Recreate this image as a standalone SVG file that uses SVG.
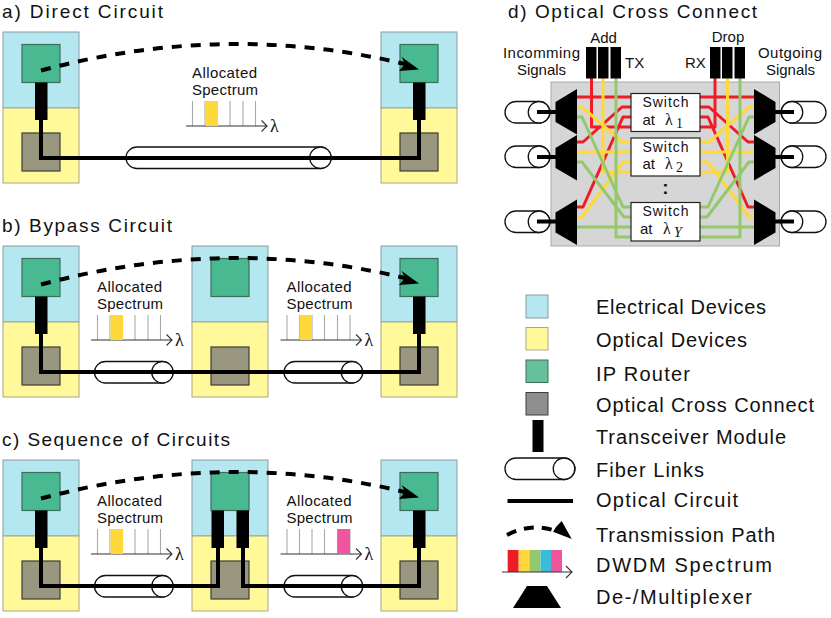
<svg xmlns="http://www.w3.org/2000/svg" width="831" height="618" viewBox="0 0 831 618">
<style>
text{font-family:"Liberation Sans",Arial,sans-serif;fill:#111}
.t{font-size:19px}
.l{font-size:20px}
.s{font-size:15px}
.w{font-size:14px}
.m{font-family:"Liberation Serif",serif}
.e{fill:#b5e7f0;stroke:#8a9ea2;stroke-width:1}
.o{fill:#fff999;stroke:#a8a68a;stroke-width:1}
.r{fill:#49b991;stroke:#3c6e5e;stroke-width:1.2}
.x{fill:#99977f;stroke:#3d3d35;stroke-width:1.2}
.fb{fill:#fff;stroke:#111;stroke-width:1.3}
.c{fill:none;stroke:#000;stroke-width:4}
.d{fill:none;stroke:#000;stroke-width:4;stroke-dasharray:10 9}
.tick{stroke:#aaa;stroke-width:1.1}
.ax{stroke:#333;stroke-width:1.1;fill:none}
.red,.yel,.grn{fill:none;stroke-width:3;stroke-linejoin:round}
.red{stroke:#ee1c25}.yel{stroke:#ffd93b}.grn{stroke:#94c96b}
</style>
<defs>
<g id="site"><rect class="e" x="3" y="32" width="76" height="76"/><rect class="o" x="3" y="108" width="76" height="75"/><rect class="r" x="22" y="44.5" width="38" height="38"/><rect class="x" x="22" y="133" width="38" height="38"/></g>
<g id="tr"><rect x="0" y="0" width="12.5" height="37.5" fill="#000"/></g>
<g id="fiber"><rect class="fb" x="0" y="0" width="78" height="21.5" rx="11" ry="10.75"/><circle class="fb" cx="68" cy="10.75" r="10.75"/></g>
<g id="stub"><rect class="fb" x="0" y="0" width="45" height="21.5" rx="11" ry="10.75"/><circle class="fb" cx="34" cy="10.75" r="10.75"/></g>
<g id="spec"><path class="tick" d="M0.5 0V25M13 0V25M25.5 0V25M38 0V25M51 0V25M63.5 0V25"/><path class="ax" d="M-6 25H75M69.500 19.500L75 25L69.500 30.500"/></g>
<g id="arr"><polygon points="401.700,57 419,69.500 399,71 405,64" fill="#000"/></g>
<polygon id="muxL" points="577,0 555.500,13 555.500,33 577,45.500"/>
</defs>

<g id="titles">
<text class="t" x="2" y="17.500" textLength="161" lengthAdjust="spacing">a) Direct Circuit</text>
<text class="t" x="2" y="232" textLength="170" lengthAdjust="spacing">b) Bypass Circuit</text>
<text class="t" x="2" y="446" textLength="228" lengthAdjust="spacing">c) Sequence of Circuits</text>
<text class="t" x="508" y="18" textLength="249" lengthAdjust="spacing">d) Optical Cross Connect</text>
</g>

<g id="a-left"><use href="#site"/><use href="#tr" x="35" y="82.500"/></g>
<g id="a-right"><use href="#site" x="378"/><use href="#tr" x="413" y="82.500"/></g>
<g id="b-left"><use href="#site" y="214"/><use href="#tr" x="35" y="296.500"/></g>
<g id="b-mid"><use href="#site" x="189" y="214"/></g>
<g id="b-right"><use href="#site" x="378" y="214"/><use href="#tr" x="413" y="296.500"/></g>
<g id="c-left"><use href="#site" y="428"/><use href="#tr" x="35" y="510.500"/></g>
<g id="c-mid"><use href="#site" x="189" y="428"/><use href="#tr" x="211.500" y="510.500"/><use href="#tr" x="236.500" y="510.500"/></g>
<g id="c-right"><use href="#site" x="378" y="428"/><use href="#tr" x="413" y="510.500"/></g>

<g id="spectra">
<g id="spec-a"><use href="#spec" x="192" y="101"/><rect x="205.500" y="101" width="12.500" height="25" fill="#ffd93b"/>
<text class="s" x="192" y="77.500" textLength="65">Allocated</text><text class="s" x="192" y="95" textLength="66">Spectrum</text><text class="m" font-size="18" x="270" y="132">λ</text></g>
<g id="spec-b1"><use href="#spec" x="97" y="315"/><rect x="110.500" y="315" width="12.500" height="25" fill="#ffd93b"/>
<text class="s" x="97" y="291.500" textLength="65">Allocated</text><text class="s" x="97" y="309" textLength="66">Spectrum</text><text class="m" font-size="18" x="175" y="346">λ</text></g>
<g id="spec-b2"><use href="#spec" x="286.500" y="315"/><rect x="299.500" y="315" width="12.500" height="25" fill="#ffd93b"/>
<text class="s" x="286.500" y="291.500" textLength="65">Allocated</text><text class="s" x="286.500" y="309" textLength="66">Spectrum</text><text class="m" font-size="18" x="364.500" y="346">λ</text></g>
<g id="spec-c1"><use href="#spec" x="97" y="529"/><rect x="110.500" y="529" width="12.500" height="25" fill="#ffd93b"/>
<text class="s" x="97" y="505.500" textLength="65">Allocated</text><text class="s" x="97" y="523" textLength="66">Spectrum</text><text class="m" font-size="18" x="175" y="560">λ</text></g>
<g id="spec-c2"><use href="#spec" x="286.500" y="529"/><rect x="337.500" y="529" width="12.500" height="25" fill="#ef569f"/>
<text class="s" x="286.500" y="505.500" textLength="65">Allocated</text><text class="s" x="286.500" y="523" textLength="66">Spectrum</text><text class="m" font-size="18" x="364.500" y="560">λ</text></g>
</g>

<g id="fibers">
<rect class="fb" x="126" y="147" width="205" height="21.500" rx="11" ry="10.750"/><circle class="fb" cx="320.500" cy="157.750" r="10.750"/>
<use href="#fiber" x="94.500" y="361.500"/><use href="#fiber" x="284" y="361.500"/>
<use href="#fiber" x="94.500" y="575.500"/><use href="#fiber" x="284" y="575.500"/>
</g>

<g id="connectors">
<path class="c" d="M41 120V158H419V120"/>
<path class="c" d="M41 334V372H419V334"/>
<path class="c" d="M41 548V586H218V548"/>
<path class="c" d="M243 548V586H419V548"/>
<path class="d" d="M41 70.500Q225 21 405 64"/>
<path class="d" transform="translate(0 214)" d="M41 70.500Q225 21 405 64"/>
<path class="d" transform="translate(0 428)" d="M41 70.500Q225 21 405 64"/>
<use href="#arr"/><use href="#arr" y="214"/><use href="#arr" y="428"/>
</g>

<g id="oxc-panel">
<rect x="551" y="82" width="228.500" height="164" fill="#d6d6d6" stroke="#aaa" stroke-width="1"/>
<g id="oxc-lines">
<path class="red" d="M591.500 78V127H631M577 97H631M577 142H583L622 107H631M577 207H583L623 117H631"/>
<path class="red" d="M715 78V127H700M754 97H700M754 142H748L709 107H700M754 207H748L708 117H700"/>
<path class="yel" d="M603 78V172H631M577 107H582L622 142H631M577 152H631M577 217H582L623 162H631"/>
<path class="yel" d="M727.500 78V172H700M754 107H749L709 142H700M754 152H700M754 217H749L708 162H700"/>
<path class="grn" d="M616 78V237H631M577 117H582L623 207H631M577 162H582L624 217H631M577 227H631"/>
<path class="grn" d="M740 78V237H700M754 117H749L708 207H700M754 162H749L707 217H700M754 227H700"/>
</g>
<g id="mux-l1"><use href="#muxL" y="89"/></g>
<g id="mux-l2"><use href="#muxL" y="135"/></g>
<g id="mux-l3"><use href="#muxL" y="199.500"/></g>
<g id="mux-r1"><use href="#muxL" transform="translate(1331 89) scale(-1 1)"/></g>
<g id="mux-r2"><use href="#muxL" transform="translate(1331 135) scale(-1 1)"/></g>
<g id="mux-r3"><use href="#muxL" transform="translate(1331 199.500) scale(-1 1)"/></g>
<g id="switch-1"><rect x="631" y="93.500" width="69" height="38" fill="#fff" stroke="#222" stroke-width="1.2"/>
<text class="w" x="642.500" y="107" textLength="46">Switch</text>
<text class="s" x="642.500" y="124.500">at<tspan class="m" font-size="16" x="665">λ</tspan><tspan class="m" font-size="14" x="676" dy="3">1</tspan></text></g>
<g id="switch-2"><rect x="631" y="138" width="69" height="38" fill="#fff" stroke="#222" stroke-width="1.2"/>
<text class="w" x="642.500" y="151.500" textLength="46">Switch</text>
<text class="s" x="642.500" y="169">at<tspan class="m" font-size="16" x="665">λ</tspan><tspan class="m" font-size="14" x="676" dy="3">2</tspan></text></g>
<text x="665.500" y="194" text-anchor="middle" font-size="19" font-weight="bold">:</text>
<g id="switch-y"><rect x="631" y="202.500" width="69" height="38.500" fill="#fff" stroke="#222" stroke-width="1.2"/>
<text class="w" x="642.500" y="216" textLength="46">Switch</text>
<text class="s" x="640" y="233.500">at<tspan class="m" font-size="16" x="663">λ</tspan><tspan class="m" font-size="14" font-style="italic" x="674" dy="3">Y</tspan></text></g>
</g>

<g id="oxc-ports">
<g id="add"><rect x="586" y="47" width="10.500" height="31.500"/><rect x="598" y="47" width="10.500" height="31.500"/><rect x="610.500" y="47" width="10.500" height="31.500"/></g>
<g id="drop"><rect x="710" y="47" width="10.500" height="31.500"/><rect x="722" y="47" width="10.500" height="31.500"/><rect x="734.500" y="47" width="10.500" height="31.500"/></g>
<text class="s" x="603.500" y="43" text-anchor="middle">Add</text>
<text class="s" x="728" y="42" text-anchor="middle">Drop</text>
<text class="s" x="503" y="58" textLength="77">Incomming</text>
<text class="s" x="517" y="74.500" textLength="49">Signals</text>
<text class="s" x="758" y="58" textLength="64">Outgoing</text>
<text class="s" x="766" y="74.500" textLength="49">Signals</text>
<text class="s" x="625" y="68">TX</text>
<text class="s" x="685" y="68">RX</text>
<use href="#stub" x="505" y="101.500"/><use href="#stub" x="505" y="146"/><use href="#stub" x="505" y="211"/>
<use href="#stub" transform="translate(826 101.500) scale(-1 1)"/><use href="#stub" transform="translate(826 146) scale(-1 1)"/><use href="#stub" transform="translate(826 211) scale(-1 1)"/>
<path class="c" d="M537 112H556M537 157H556M537 221.500H556M775 112H794M775 157H794M775 221.500H794"/>
</g>

<g id="legend">
<rect x="526" y="295" width="22" height="23" fill="#b5e7f0" stroke="#8a9ea2"/>
<rect x="526" y="327.500" width="22" height="22.500" fill="#fff999" stroke="#aaa88c"/>
<rect x="526" y="360" width="22" height="22.500" fill="#66c19a" stroke="#3c6e5e"/>
<rect x="526" y="392.500" width="22" height="22.500" fill="#8e8e8e" stroke="#3d3d3d"/>
<rect x="532.500" y="420" width="11" height="32" fill="#000"/>
<rect class="fb" x="505" y="458" width="70" height="21.500" rx="11" ry="10.750"/><circle class="fb" cx="564" cy="468.750" r="10.750"/>
<path class="c" d="M507.500 501H573"/>
<path class="c" stroke-dasharray="10 8" d="M507 535Q530 523 553 530"/>
<polygon points="561.700,521 571.700,539 553,531.700 556,527" fill="#000"/>
<rect x="507.700" y="550" width="11" height="22" fill="#ee1c25"/><rect x="518.700" y="550" width="11" height="22" fill="#ffd93b"/><rect x="529.500" y="550" width="11" height="22" fill="#94c96b"/><rect x="540.500" y="550" width="11" height="22" fill="#3cbcd8"/><rect x="551" y="550" width="11" height="22" fill="#ef569f"/>
<path class="ax" stroke="#111" d="M502 572H572M566 566L572 572L566 578"/>
<polygon points="513,608 561,608 547,586 527,586" fill="#000"/>
<text class="l" x="596" y="314" textLength="170">Electrical Devices</text>
<text class="l" x="596" y="346.500" textLength="151">Optical Devices</text>
<text class="l" x="596" y="380.500" textLength="94">IP Router</text>
<text class="l" x="596" y="412" textLength="218">Optical Cross Connect</text>
<text class="l" x="596" y="444" textLength="190">Transceiver Module</text>
<text class="l" x="596" y="476.500" textLength="108">Fiber Links</text>
<text class="l" x="596" y="506.500" textLength="142">Optical Circuit</text>
<text class="l" x="596" y="541.500" textLength="179">Transmission Path</text>
<text class="l" x="596" y="571.500" textLength="176">DWDM Spectrum</text>
<text class="l" x="596" y="604" textLength="156">De-/Multiplexer</text>
</g>
</svg>
